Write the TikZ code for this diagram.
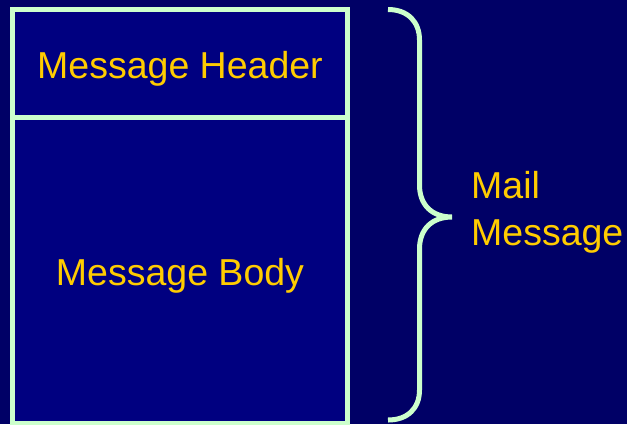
\documentclass[tikz,border=0pt]{standalone}
\usepackage{fontspec}
\setmainfont{Liberation Sans}
\definecolor{bgnavy}{HTML}{000066}
\definecolor{boxnavy}{HTML}{000080}
\definecolor{mint}{HTML}{CCFFCC}
\definecolor{gold}{HTML}{FFCC00}
\begin{document}
\begin{tikzpicture}[x=1pt,y=-1pt,
  boxpart/.style={draw=mint,fill=boxnavy,line width=5pt,rectangle,inner sep=0pt},
  label/.style={text=gold,font=\fontsize{37.5}{47}\selectfont,inner sep=0pt},
  bracepath/.style={draw=mint,line width=5pt}]
\fill[bgnavy] (0,0) rectangle (627,424);
\useasboundingbox (0,0) rectangle (627,424);
\node[boxpart,minimum width=335.5pt,minimum height=306pt] (body) at (179.75,270.5) {};
\node[boxpart,minimum width=335.5pt,minimum height=108pt] (header) at (179.75,63.5) {};
\node[label,anchor=base] (htext) at (180,78) {Message Header};
\node[label,anchor=base] (btext) at (180,285) {Message Body};
\node[label,anchor=base west] (mail) at (471,198) {Mail};
\node[label,anchor=base west] (msg) at (471,245) {Message};
\coordinate (btop) at (388,9.5);
\coordinate (bbot) at (388,420);
\coordinate (btip) at (452,217);
\draw[bracepath] (btop) .. controls (408,9.5) and (419.5,22) .. (419.5,40)
  -- (419.5,185) .. controls (419.5,205) and (432,217) .. (btip)
  .. controls (432,217) and (419.5,229) .. (419.5,249)
  -- (419.5,390) .. controls (419.5,408) and (408,420) .. (bbot);
\end{tikzpicture}
\end{document}
